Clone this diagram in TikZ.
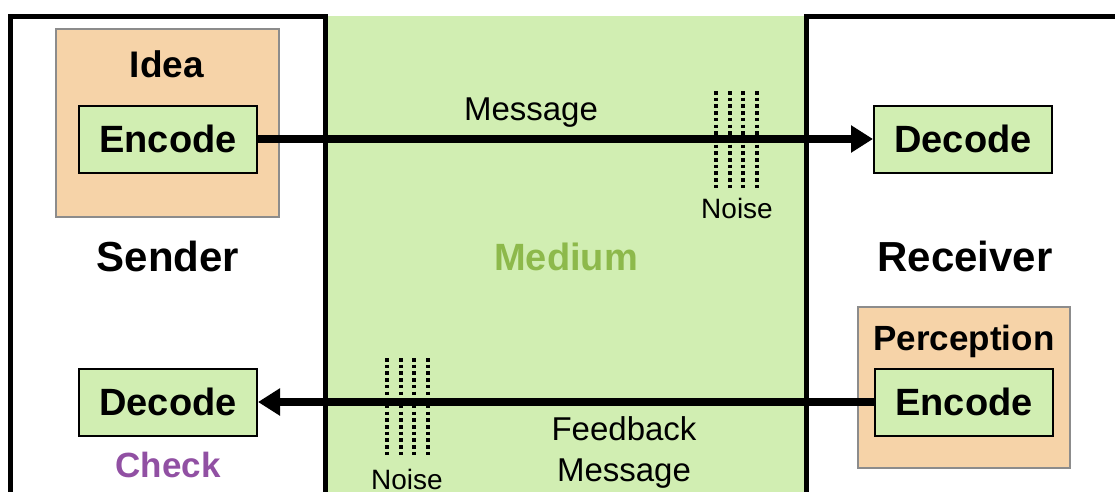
\documentclass[tikz,border=0pt]{standalone}
\usepackage{fontspec}
\setmainfont{Liberation Sans}
\usetikzlibrary{arrows.meta}
\definecolor{medgreen}{RGB}{209,238,178}
\definecolor{ideaorange}{RGB}{246,211,168}
\definecolor{boxgray}{RGB}{140,140,140}
\definecolor{medtext}{RGB}{141,185,75}
\definecolor{checkpurple}{RGB}{145,80,163}
\begin{document}
\begin{tikzpicture}[x=1pt,y=-1pt,
  greenbox/.style={draw=black,line width=2pt,fill=medgreen,minimum width=178pt,minimum height=67pt,inner sep=0pt,font=\fontsize{38}{42}\selectfont\bfseries},
  orangebox/.style={draw=boxgray,line width=1.5pt,fill=ideaorange},
  frame/.style={line width=5pt,draw=black},
  bigarrow/.style={line width=8pt,-{Triangle[length=22pt,width=26pt]}},
  noiseline/.style={line width=3.5pt,dash pattern=on 3.5pt off 3.2pt},
  lbl/.style={anchor=base,inner sep=0pt},
  bigtitle/.style={lbl,font=\fontsize{42}{46}\selectfont\bfseries},
  subtitle/.style={lbl,font=\fontsize{35}{39}\selectfont\bfseries},
  msgtext/.style={lbl,font=\fontsize{33}{37}\selectfont},
  noisetext/.style={lbl,font=\fontsize{28}{31}\selectfont}]
\useasboundingbox (0,0) rectangle (1115,491);
\clip (0,0) rectangle (1115,491);
% medium
\fill[medgreen] (325,16) rectangle (806,500);
% sender and receiver frames
\draw[frame] (10,520) -- (10,16.5) -- (325.5,16.5) -- (325.5,520);
\draw[frame] (806,520) -- (806,16.5) -- (1130,16.5);
% orange boxes
\draw[orangebox] (56,29) rectangle (279,217);
\draw[orangebox] (858,307) rectangle (1070,468);
% green boxes
\node[greenbox] (enc1) at (168,139) {Encode};
\node[greenbox] (dec1) at (963,139) {Decode};
\node[greenbox] (enc2) at (964,402) {Encode};
\node[greenbox] (dec2) at (168,402) {Decode};
% labels
\node[subtitle,font=\fontsize{37}{40}\selectfont\bfseries] (idea) at (167,77) {Idea};
\node[subtitle] (perc) at (964,350) {Perception};
\node[subtitle,text=checkpurple] (check) at (168,477) {Check};
\node[bigtitle] (sender) at (168,271) {Sender};
\node[bigtitle] (receiver) at (965,271) {Receiver};
\node[lbl,font=\fontsize{38}{41}\selectfont\bfseries,text=medtext] (medium) at (566,270) {Medium};
\node[msgtext] (msg) at (531,120) {Message};
\node[msgtext] (fb1) at (624,440) {Feedback};
\node[msgtext] (fb2) at (624,481) {Message};
\node[noisetext] (noise1) at (737,218) {Noise};
\node[noisetext] (noise2) at (407,489) {Noise};
% arrows
\draw[bigarrow] (enc1.east) -- (dec1.west);
\draw[bigarrow] (enc2.west) -- (dec2.east);
% noise lines
\foreach \x in {716,730,743,757} \draw[noiseline] (\x,91) -- (\x,188);
\foreach \x in {387,401,414,428} \draw[noiseline] (\x,358) -- (\x,455);
\end{tikzpicture}
\end{document}
